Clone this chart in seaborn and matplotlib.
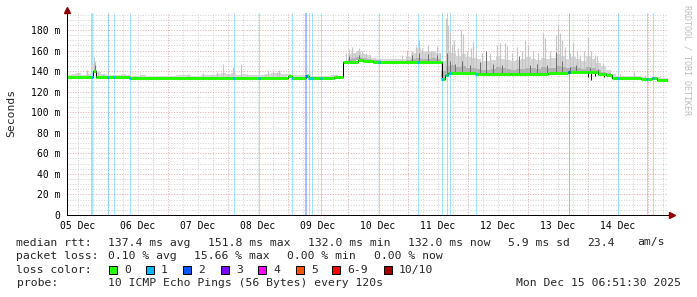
import numpy as np
import matplotlib
matplotlib.use("Agg")
import matplotlib.pyplot as plt
import seaborn as sns
from matplotlib.patches import Rectangle

# ---------------- data (time = hours since 05 Dec 00:00) ----------------
day_labels = ["05 Dec", "06 Dec", "07 Dec", "08 Dec", "09 Dec",
              "10 Dec", "11 Dec", "12 Dec", "13 Dec", "14 Dec"]
day_label_hours = [12, 36, 60, 84, 108, 132, 156, 180, 204, 228]
y_tick_values = [0, 20, 40, 60, 80, 100, 120, 140, 160, 180]
y_tick_labels = ["0", "20 m", "40 m", "60 m", "80 m", "100 m",
                 "120 m", "140 m", "160 m", "180 m"]

# median rtt (ms) as steps: segment start times and values
med_t = [7, 18.0, 19.2, 32.8, 96.0, 97.6, 103.2, 104.4, 114.4, 118.0,
         124.0, 126.0, 130.0, 142.8, 148.0, 157.6, 158.8, 160.0, 171.0,
         185.0, 200.0, 208.0, 216.0, 220.0, 223.0, 225.6, 237.2, 241.6,
         243.6, 248.5]
med_v = [134.5, 140.5, 134.5, 133.5, 135.5, 133.0, 135.0, 133.0, 134.3,
         149.2, 151.2, 150.2, 149.2, 148.6, 148.9, 132.0, 136.5, 137.8,
         137.3, 137.6, 138.5, 139.5, 139.0, 137.0, 136.5, 133.5, 132.0,
         133.0, 131.5]

# light smoke envelope, every 2 h from 8 h to 248 h
smoke_hi = [136.5, 137, 138, 136.5, 137.5, 146, 139, 137, 136.5, 136,
            136, 137, 136, 135.5, 135.5, 136, 135.5, 135.5, 135.5, 135.5,
            135.5, 135.5, 136, 136, 136.5, 135.5, 135.5, 136.5, 136, 136,
            137, 138, 137, 138, 136.5, 137, 136.5, 136, 136, 136,
            137, 138, 138, 137, 137.5, 136, 136, 136, 137, 135.5,
            135.5, 135.5, 135.5, 136, 136.5,
            145, 157, 158, 160, 157, 156, 153, 152, 151.5, 151.5,
            151.5, 152, 152, 154, 158, 162, 160, 159, 160, 158, 150,
            160, 158, 155, 157, 154, 153, 152, 150, 150, 151,
            155, 152, 151, 150, 151, 152, 154, 152, 151, 153,
            152, 153, 157, 155, 152, 154, 152, 150, 155, 152,
            148, 145, 141,
            137, 135.5, 135, 135, 135.5, 135, 134, 133.5, 134, 134, 133, 133]

# darker smoke band, every 2 h from 118 h to 226 h
mid_hi = [140, 152, 153, 154, 153, 152, 151, 150.5, 150, 150,
          150, 150, 150, 151, 152, 153, 152, 152, 153, 152,
          140, 145, 146, 144, 145, 143, 143, 142, 141, 141,
          142, 144, 143, 142, 141, 142, 142, 143, 143, 142,
          144, 143, 143, 145, 144, 143, 144, 143, 142, 144,
          143, 141, 139, 138, 134]

# thin light smoke spikes (time, top value)
spike_t = [12, 15.6, 18.2, 18.6, 19.9, 22, 36.8, 56, 62, 65.6, 67.6, 70, 72,
           73.9, 77.2, 79.6, 86.8, 88, 90.1, 91.5, 92.4,
           119.2, 120.4, 121.6, 122.8, 124.4, 125.6, 127.2, 128.8, 141.6,
           143.6, 145.6, 147.2, 148.4, 149.6, 150.8, 152, 153.2, 154, 155.6,
           156.8,
           159.2, 159.8, 160.6, 161.6, 162.4, 164, 165.2, 166, 167.6, 169.2,
           170, 171.2, 173.6, 176.8, 179.6, 180.8, 182.8, 183.6, 185.6, 187.6,
           189.6, 190.8, 192, 194, 196, 198, 198.8, 200.8, 203.2, 204, 204.8,
           205.6, 206.8, 208.8, 210, 211.6, 212.8, 214.4, 216, 217.2, 218.8,
           219.6, 222,
           228.8, 234.4, 238.8]
spike_v = [137.8, 141, 153.5, 150, 139.4, 137, 137, 137, 137.8, 136.5, 139.4,
           147, 137.5, 144.3, 147, 137, 137, 141, 141, 139.5, 141,
           158, 161, 163, 158, 162, 160, 158, 156, 155.6,
           160.5, 160, 164, 170, 162, 158, 165, 160, 159, 164,
           158,
           192, 185, 178, 165, 170, 162, 180, 176, 160, 162,
           168, 160, 158, 158, 165, 167, 167, 164, 158, 163,
           160, 170, 165, 160, 158, 177, 172, 160, 175, 185, 177,
           170, 163, 158, 168, 160, 156, 160, 173, 160, 156,
           155, 148,
           137, 139.4, 136.5]

# dark smoke spikes (time, top value)
dark_t = [18.8, 120.4, 124.4, 145.6, 148.4, 152, 155.6,
          159.6, 160.8, 162.8, 165.6, 168.8, 172.8, 175.2, 178, 181.6,
          188.4, 192.8, 195.6, 199.6, 203.2, 205.6, 208.8, 211.2, 216.8, 220]
dark_v = [146, 155, 156, 156, 158, 157, 156,
          158, 150, 147, 150, 146, 149, 160, 147, 146,
          155, 146, 147, 146, 159, 150, 144, 146, 143, 142]

# dark smoke dipping below the median (time, low value)
dip_t = [216, 217.2, 218.8, 222.4]
dip_v = [134, 131, 135, 134]

# packet-loss events: time, loss level, bar width (px)
loss_t = [17.6, 24.0, 26.4, 32.8, 74.4, 84.4, 97.6, 103.2, 104.4, 105.6,
          109.2, 132.4, 148.0, 157.6, 159.6, 160.8, 171.2, 208.4, 228.0,
          239.6, 242.0]
loss_level = [1, 1, 1, 1, 1, 1, 1, 2, 1, 1,
              1, 1, 1, 1, 1, 1, 1, 2, 1,
              1, 1]
loss_width = [2, 1, 1, 1, 1, 1, 1, 2, 1, 1,
              1, 1, 1, 1, 1, 1, 1, 1, 1,
              1, 1]

loss_names = ["0", "1", "2", "3", "4", "5", "6-9", "10/10"]
loss_colors = ["#26ff00", "#00b8ff", "#0059ff", "#7e00ff",
               "#ff00ff", "#ff5500", "#ff0000", "#a00000"]

row1 = [(16.5, "median rtt:"), (108, "137.4 ms avg"), (208, "151.8 ms max"),
        (308, "132.0 ms min"), (408, "132.0 ms now"), (508, "5.9 ms sd"),
        (587, "23.4"), (637, "am/s")]
row2 = [(16.5, "packet loss:"), (108, "0.10 % avg"), (194, "15.66 % max"),
        (287, "0.00 % min"), (374, "0.00 % now")]
row4 = [(16.5, "probe:"), (108, "10 ICMP Echo Pings (56 Bytes) every 120s")]
date_text = "Mon Dec 15 06:51:30 2025"
square_x = [109, 146, 183, 221, 258, 296, 332, 384]

# ---------------- drawing ----------------
sns.set_theme(style="white")
plt.rcParams["font.family"] = ["DejaVu Sans Mono", "DejaVu Sans"]

W, H = 697, 297
fig = plt.figure(figsize=(W / 100, H / 100), dpi=100)
fig.patch.set_facecolor("white")
ax = fig.add_axes([67 / W, 1 - 215 / H, 601 / W, 202 / H])
ax.set_facecolor("white")

XMIN, XMAX, YMAX = 7.6, 248.0, 196.5
ax.set_xlim(XMIN, XMAX)
ax.set_ylim(0, YMAX)

PX = 0.72  # one pixel in points

# grid
for h in range(0, 250, 6):
    if XMIN < h < XMAX:
        major = (h % 24 == 0)
        ax.axvline(h, color="#e8abab" if major else "#d3d3d3",
                   lw=PX, ls=(0, (1, 1.6)), zorder=0)
for v in range(5, 200, 5):
    if v < YMAX:
        major = (v % 20 == 0)
        ax.axhline(v, color="#e8abab" if major else "#d3d3d3",
                   lw=PX, ls=(0, (1, 1.6)), zorder=0)

# loss bars
for t, lvl, w in zip(loss_t, loss_level, loss_width):
    ax.axvline(t, color=loss_colors[lvl], alpha=0.36, lw=w * PX, zorder=1)

med_t_arr = np.array(med_t, dtype=float)
med_v_arr = np.array(med_v, dtype=float)


def median_at(t):
    idx = np.searchsorted(med_t_arr, np.asarray(t, dtype=float), side="right") - 1
    return med_v_arr[np.clip(idx, 0, len(med_v_arr) - 1)]


smoke_t = np.arange(8, 249, 2)
hi = np.array(smoke_hi)
base = median_at(smoke_t)
ax.fill_between(smoke_t, base, hi, where=hi > base, step="mid",
                color="#d6d6d6", lw=0, zorder=2)

mid_t = np.arange(118, 227, 2)
mh = np.array(mid_hi)
mbase = median_at(mid_t)
ax.fill_between(mid_t, mbase, mh, where=mh > mbase, step="mid",
                color="#b2b2b2", lw=0, zorder=2.5)

ax.vlines(spike_t, median_at(spike_t), spike_v, color="#c6c6c6",
          lw=1.2 * PX, zorder=2.2)
ax.vlines(dark_t, median_at(dark_t), dark_v, color="#707070",
          lw=1.0 * PX, zorder=3)
ax.vlines(dip_t, dip_v, median_at(dip_t), color="#222222",
          lw=1.0 * PX, zorder=3)

# median: black steps + green segments
sns.lineplot(x=med_t, y=med_v + [med_v[-1]], drawstyle="steps-post",
             color="black", lw=1.0 * PX, estimator=None, sort=False,
             ax=ax, zorder=4)
ax.hlines(med_v, med_t[:-1], med_t[1:], color=loss_colors[0],
          lw=3 * PX, zorder=5)
for t, lvl in zip(loss_t, loss_level):
    ax.hlines(median_at(t), t - 0.4, t + 0.4, color=loss_colors[lvl],
              lw=3 * PX, zorder=5.5)

# axes styling
ax.set_xticks(day_label_hours, day_labels)
ax.set_yticks(y_tick_values, y_tick_labels)
ax.tick_params(axis="x", length=0, pad=4, labelsize=7, colors="black")
ax.tick_params(axis="y", length=0, pad=5, labelsize=7, colors="black")
for s in ["top", "right"]:
    ax.spines[s].set_visible(False)
for s in ["left", "bottom"]:
    ax.spines[s].set_color("black")
    ax.spines[s].set_linewidth(PX)
    ax.spines[s].set_zorder(6)
ax.set_xlabel("")
ax.set_ylabel("")
ax.grid(False)

# arrows
ax.plot([0], [1 + 3 / 202], marker="^", ms=4, color="#8b0000",
        transform=ax.transAxes, clip_on=False, zorder=7)
ax.plot([1 + 4 / 601], [0], marker=">", ms=4, color="#8b0000",
        transform=ax.transAxes, clip_on=False, zorder=7)


def fx(x):
    return x / W


def fy(y):
    return 1 - y / H


fig.text(fx(11), fy(113), "Seconds", rotation=90, ha="center", va="center",
         fontsize=8.2)
fig.text(fx(687), fy(60), "RRDTOOL / TOBI OETIKER", rotation=270,
         ha="center", va="center", fontsize=6, color="#bdbdbd")

FS = 8.2
for x, s in row1:
    fig.text(fx(x), fy(245.5), s, fontsize=FS, va="baseline", ha="left")
for x, s in row2:
    fig.text(fx(x), fy(259), s, fontsize=FS, va="baseline", ha="left")
fig.text(fx(16.5), fy(272.7), "loss color:", fontsize=FS, va="baseline", ha="left")
for sx, name, col in zip(square_x, loss_names, loss_colors):
    fig.add_artist(Rectangle((fx(sx), fy(273.5)), 8 / W, 8 / H,
                             facecolor=col, edgecolor="black", lw=PX,
                             transform=fig.transFigure))
    fig.text(fx(sx + 15), fy(272.7), name, fontsize=FS, va="baseline", ha="left")
for x, s in row4:
    fig.text(fx(x), fy(286.3), s, fontsize=FS, va="baseline", ha="left")
fig.text(fx(681), fy(286.3), date_text, fontsize=FS, va="baseline", ha="right")

fig.savefig("out.png", dpi=100, facecolor="white")
